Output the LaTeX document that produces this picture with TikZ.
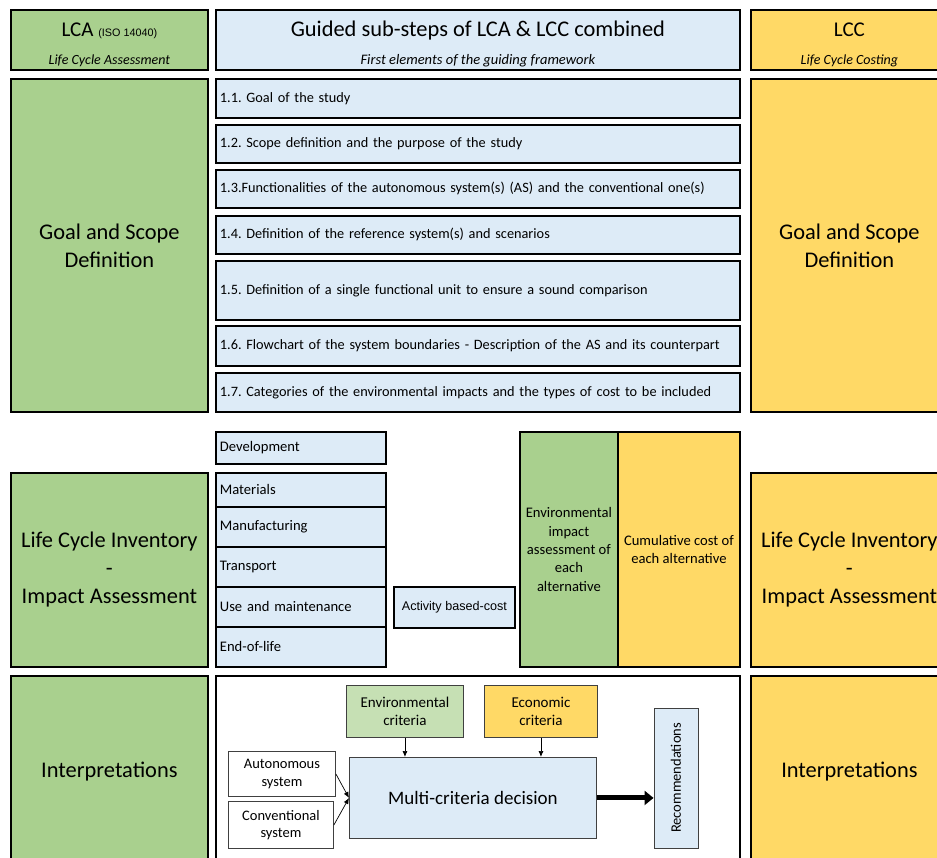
\documentclass[tikz,border=0pt]{standalone}
\usepackage{fontspec}
\setmainfont{Carlito}
\newfontfamily\arialfont{Liberation Sans}
\usepackage{tikz}
\usetikzlibrary{arrows.meta}
\definecolor{lcagreen}{HTML}{A9D08E}
\definecolor{lccyellow}{HTML}{FFD966}
\definecolor{stepblue}{HTML}{DDEBF7}
\definecolor{critgreen}{HTML}{C6E0B4}
\frenchspacing

\begin{document}
\begin{tikzpicture}[x=1pt,y=-1pt,>=Latex,
  cell/.style={draw=black,line width=1.8pt,anchor=north west,inner sep=0pt},
  lcacell/.style={cell,fill=lcagreen,minimum width=197pt,align=center},
  lcccell/.style={cell,fill=lccyellow,minimum width=197pt,align=center},
  stepcell/.style={cell,fill=stepblue,text width=516pt,inner xsep=4pt,align=left,
    font=\fontsize{14.3}{17}\selectfont},
  phasecell/.style={cell,fill=stepblue,text width=162pt,inner xsep=4pt,align=left,
    minimum height=40pt,font=\fontsize{14.6}{17}\selectfont},
  bigfont/.style={font=\fontsize{22.4}{28}\selectfont},
  headtitle/.style={anchor=base,inner sep=0pt,font=\fontsize{21}{24}\selectfont},
  headsub/.style={anchor=base,inner sep=0pt,font=\fontsize{14}{15}\selectfont\itshape},
  flowbox/.style={draw=black!75,line width=0.9pt,anchor=north west,align=center,
    inner sep=0pt,font=\fontsize{14.5}{17.5}\selectfont},
  smallarrow/.style={-{Latex[length=6pt,width=5pt]},line width=0.7pt}]
  \useasboundingbox (0,0) rectangle (937,858);
  \clip (0,0) rectangle (937,858);
  \fill[white] (0,0) rectangle (937,858);

  \node[lcacell,minimum height=60pt] (lcahead) at (10,9) {};
  \node[headtitle] (lcatitle) at ([yshift=-28pt]lcahead.north)
    {LCA {\arialfont\fontsize{10.8}{12}\selectfont (ISO 14040)}};
  \node[headsub] (lcasub) at ([yshift=6pt]lcahead.south) {Life Cycle Assessment};
  \node[cell,fill=stepblue,minimum width=524pt,minimum height=60pt] (combhead) at (215,9) {};
  \node[headtitle,font=\fontsize{22.4}{24}\selectfont] (combtitle) at ([yshift=-28pt]combhead.north)
    {Guided sub-steps of LCA \& LCC combined};
  \node[headsub,font=\fontsize{14.5}{15}\selectfont\itshape] (combsub) at ([yshift=6pt]combhead.south)
    {First elements of the guiding framework};
  \node[lcccell,minimum height=60pt] (lcchead) at (750,9) {};
  \node[headtitle] (lcctitle) at ([yshift=-28pt]lcchead.north) {LCC};
  \node[headsub] (lccsub) at ([yshift=6pt]lcchead.south) {Life Cycle Costing};

  \node[lcacell,minimum height=333pt,bigfont] (lcagoal) at (10,78) {Goal and Scope\\Definition};
  \node[lcccell,minimum height=333pt,bigfont] (lccgoal) at (750,78) {Goal and Scope\\Definition};
  \node[stepcell,minimum height=39pt] (s11) at (215,78) {1.1. Goal of the study};
  \node[stepcell,minimum height=38pt] (s12) at (215,124) {1.2. Scope definition and the purpose of the study};
  \node[stepcell,minimum height=38pt] (s13) at (215,169)
    {1.3.Functionalities of the autonomous system(s) (AS) and the conventional one(s)};
  \node[stepcell,minimum height=38pt] (s14) at (215,215) {1.4. Definition of the reference system(s) and scenarios};
  \node[stepcell,minimum height=59pt] (s15) at (215,260)
    {1.5. Definition of a single functional unit to ensure a sound comparison};
  \node[stepcell,minimum height=40pt] (s16) at (215,325)
    {1.6. Flowchart of the system boundaries - Description of the AS and its counterpart};
  \node[stepcell,minimum height=39pt] (s17) at (215,372)
    {1.7. Categories of the environmental impacts and the types of cost to be included};

  \node[phasecell,minimum height=32pt] (dev) at (215,431) {Development};
  \node[lcacell,minimum height=194pt,bigfont] (lcainv) at (10,472)
    {Life Cycle Inventory\\-\\Impact Assessment};
  \node[lcccell,minimum height=194pt,bigfont] (lccinv) at (750,472)
    {Life Cycle Inventory\\-\\Impact Assessment};
  \node[phasecell,minimum height=34pt] (mat) at (215,472) {Materials};
  \node[phasecell] (manu) at (215,506) {Manufacturing};
  \node[phasecell] (trans) at (215,546) {Transport};
  \node[phasecell] (use) at (215,586) {Use and maintenance};
  \node[phasecell] (eol) at (215,626) {End-of-life};
  \node[cell,fill=stepblue,minimum width=121pt,minimum height=41pt,font=\arialfont\fontsize{12.6}{14}\selectfont]
    (abc) at (393,586) {Activity based-cost};
  \node[cell,fill=lcagreen,minimum width=98pt,minimum height=235pt,align=center,
    font=\fontsize{14.6}{18.3}\selectfont] (envimp) at (519,431)
    {Environmental\\impact\\assessment of\\each\\alternative};
  \node[cell,fill=lccyellow,minimum width=122pt,minimum height=235pt,align=center,
    font=\fontsize{14.6}{18.3}\selectfont] (cumcost) at (617,431)
    {Cumulative cost of\\each alternative};

  \node[lcacell,minimum height=192pt,bigfont] (lcaint) at (10,675) {Interpretations};
  \node[lcccell,minimum height=192pt,bigfont] (lccint) at (750,675) {Interpretations};
  \node[cell,fill=white,minimum width=524pt,minimum height=200pt] (mcdframe) at (215,675) {};
  \node[flowbox,fill=critgreen,minimum width=117pt,minimum height=52pt,
    font=\fontsize{15}{18}\selectfont] (envcrit) at (346,685) {Environmental\\criteria};
  \node[flowbox,fill=lccyellow,minimum width=113pt,minimum height=52pt,
    font=\fontsize{15}{18}\selectfont] (econcrit) at (484,685) {Economic\\criteria};
  \node[flowbox,fill=white,minimum width=107pt,minimum height=45pt] (auto) at (228,751)
    {Autonomous\\system};
  \node[flowbox,fill=white,minimum width=105pt,minimum height=47pt] (conv) at (228,801)
    {Conventional\\system};
  \node[flowbox,fill=stepblue,minimum width=247pt,minimum height=81pt,
    font=\fontsize{19}{22}\selectfont] (multi) at (349,757) {Multi-criteria decision};
  \node[flowbox,anchor=center,fill=stepblue,rotate=90,minimum width=140pt,minimum height=44pt]
    (rec) at (676,778) {Recommendations};

  \draw[smallarrow] (envcrit.south) -- (envcrit.south |- multi.north);
  \draw[smallarrow] (econcrit.south) -- (econcrit.south |- multi.north);
  \draw[smallarrow] (auto.east) -- (multi.west);
  \draw[smallarrow] (conv.east) -- (multi.west);
  \draw[line width=5pt,-{Triangle[length=9pt,width=14pt]}] (multi.east) -- (multi.east -| rec.north);
\end{tikzpicture}
\end{document}
